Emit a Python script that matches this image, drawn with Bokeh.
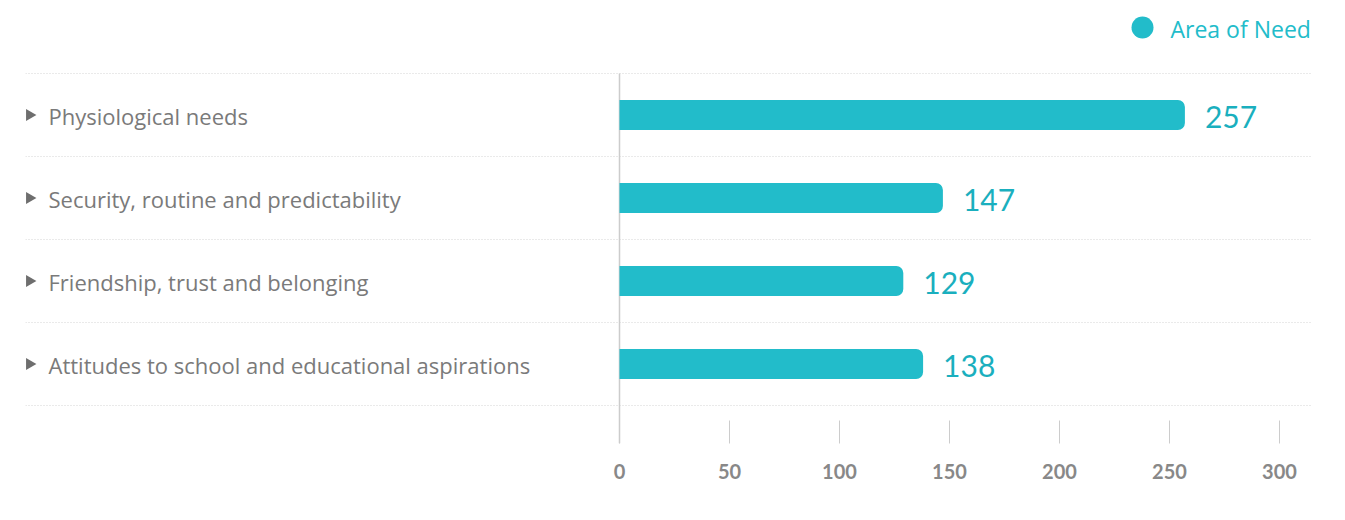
import math
from bokeh.plotting import figure
from bokeh.models import Range1d, FixedTicker, ColumnDataSource
from bokeh.core.properties import value
from bokeh.embed import file_html
from bokeh.resources import INLINE

categories = [
    "Physiological needs",
    "Security, routine and predictability",
    "Friendship, trust and belonging",
    "Attitudes to school and educational aspirations",
]
values = [257, 147, 129, 138]
series_name = "Area of Need"
x_ticks = [0, 50, 100, 150, 200, 250, 300]

BAR = "#22BCCA"
VAL = "#1AAFBE"
GRAY = "#7a7a7a"

n = len(categories)
ypos = [n - 0.5 - i for i in range(n)]

# pixel layout helpers (frame spans x 25..1311, value 0 at 619, 2.2 px/unit)
px_per = 2.2
x0_px = 619
left_px, right_px = 25, 1311
xs = (left_px - x0_px) / px_per
xe = (right_px - x0_px) / px_per
row_px = 83
top_rows_px = 73
bottom_px = 443
ytop = n + top_rows_px / row_px
ybot = n - (bottom_px - top_rows_px) / row_px


def px_x(px):
    return (px - x0_px) / px_per


def px_y(py):
    return n + (top_rows_px - py) / row_px


W, H = 1329, 504
p = figure(width=W, height=H, output_backend="svg", toolbar_location=None,
           x_range=Range1d(xs, xe), y_range=Range1d(ybot, ytop),
           y_axis_location=None, min_border_left=left_px,
           min_border_right=W - right_px, min_border_top=0,
           min_border_bottom=H - bottom_px)
p.outline_line_color = None
p.background_fill_color = "white"
p.border_fill_color = "white"

# grid
p.xgrid.grid_line_color = None
p.ygrid.ticker = FixedTicker(ticks=list(range(n + 1)))
p.ygrid.grid_line_color = "#d4d4d4"
p.ygrid.grid_line_dash = "1 2"
p.ygrid.grid_line_width = 1

# x axis
ax = p.xaxis[0]
ax.ticker = FixedTicker(ticks=x_ticks)
ax.axis_line_color = None
ax.major_tick_in = 23
ax.major_tick_out = 0
ax.minor_tick_line_color = None
ax.major_tick_line_color = "#cccccc"
ax.major_tick_line_width = 1
ax.major_label_text_font = "Lato"
ax.major_label_text_font_style = "bold"
ax.major_label_text_font_size = "20px"
ax.major_label_text_color = "#888888"
ax.major_label_standoff = 20

# zero line
p.segment(x0=[0], y0=[n], x1=[0], y1=[ybot], line_color="#cccccc", line_width=1.5)

src = ColumnDataSource(dict(y=ypos, v=values, cat=categories,
                            lbl=[str(v) for v in values]))

p.hbar(y="y", right="v", left=0, height=30 / row_px, source=src,
       fill_color=BAR, line_color=None, border_radius=(0, 7, 7, 0))

p.text(x="v", y="y", text="lbl", source=src, x_offset=20, y_offset=2,
       text_font=value("Lato"), text_font_size="30px", text_color=VAL,
       text_baseline="middle", text_align="left")

p.text(x=px_x(48), y="y", text="cat", source=src, text_font=value("Open Sans"),
       text_font_size="22px", text_color=GRAY, text_baseline="middle",
       text_align="left", y_offset=1)
p.scatter(x=px_x(29), y="y", source=src, marker="triangle", size=12,
          angle=-math.pi / 2, fill_color="#6e6e6e", line_color=None)

# legend
p.scatter(x=[px_x(1142)], y=[px_y(27)], marker="circle", size=22,
          fill_color=BAR, line_color=None)
p.text(x=[px_x(1170)], y=[px_y(27)], text=[series_name],
       text_font=value("Open Sans"), text_font_size="23px", text_color=BAR,
       text_baseline="middle", text_align="left", y_offset=1)

open("out.html", "w").write(file_html(p, INLINE))
